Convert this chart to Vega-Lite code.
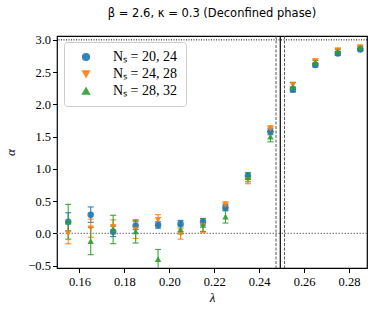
{
  "$schema": "https://vega.github.io/schema/vega-lite/v6.json",
  "autosize": "none",
  "width": 310,
  "height": 232,
  "padding": {"left": 57, "top": 36, "right": 7, "bottom": 41},
  "title": {"text": "β = 2.6, κ = 0.3 (Deconfined phase)", "font": "DejaVu Sans", "fontSize": 11.5, "fontWeight": "normal", "color": "#000", "anchor": "middle", "offset": 14},
  "datasets": {
    "pts": [
      {"lam": 0.155, "alpha": 0.18, "lo": 0.04, "hi": 0.32, "series": "Nₛ = 20, 24"},
      {"lam": 0.165, "alpha": 0.29, "lo": 0.17, "hi": 0.41, "series": "Nₛ = 20, 24"},
      {"lam": 0.175, "alpha": 0.03, "lo": -0.05, "hi": 0.11, "series": "Nₛ = 20, 24"},
      {"lam": 0.185, "alpha": 0.12, "lo": 0.06, "hi": 0.18, "series": "Nₛ = 20, 24"},
      {"lam": 0.195, "alpha": 0.13, "lo": 0.08, "hi": 0.18, "series": "Nₛ = 20, 24"},
      {"lam": 0.205, "alpha": 0.15, "lo": 0.10, "hi": 0.20, "series": "Nₛ = 20, 24"},
      {"lam": 0.215, "alpha": 0.18, "lo": 0.13, "hi": 0.23, "series": "Nₛ = 20, 24"},
      {"lam": 0.225, "alpha": 0.40, "lo": 0.35, "hi": 0.45, "series": "Nₛ = 20, 24"},
      {"lam": 0.235, "alpha": 0.89, "lo": 0.84, "hi": 0.94, "series": "Nₛ = 20, 24"},
      {"lam": 0.245, "alpha": 1.58, "lo": 1.53, "hi": 1.63, "series": "Nₛ = 20, 24"},
      {"lam": 0.255, "alpha": 2.23, "lo": 2.19, "hi": 2.27, "series": "Nₛ = 20, 24"},
      {"lam": 0.265, "alpha": 2.61, "lo": 2.58, "hi": 2.64, "series": "Nₛ = 20, 24"},
      {"lam": 0.275, "alpha": 2.79, "lo": 2.76, "hi": 2.82, "series": "Nₛ = 20, 24"},
      {"lam": 0.285, "alpha": 2.85, "lo": 2.83, "hi": 2.87, "series": "Nₛ = 20, 24"},
      {"lam": 0.155, "alpha": 0.00, "lo": -0.16, "hi": 0.16, "series": "Nₛ = 24, 28"},
      {"lam": 0.165, "alpha": 0.08, "lo": -0.06, "hi": 0.22, "series": "Nₛ = 24, 28"},
      {"lam": 0.175, "alpha": 0.10, "lo": -0.01, "hi": 0.21, "series": "Nₛ = 24, 28"},
      {"lam": 0.185, "alpha": 0.06, "lo": -0.08, "hi": 0.20, "series": "Nₛ = 24, 28"},
      {"lam": 0.195, "alpha": 0.21, "lo": 0.13, "hi": 0.29, "series": "Nₛ = 24, 28"},
      {"lam": 0.205, "alpha": -0.01, "lo": -0.09, "hi": 0.07, "series": "Nₛ = 24, 28"},
      {"lam": 0.215, "alpha": 0.12, "lo": 0.01, "hi": 0.23, "series": "Nₛ = 24, 28"},
      {"lam": 0.225, "alpha": 0.44, "lo": 0.39, "hi": 0.49, "series": "Nₛ = 24, 28"},
      {"lam": 0.235, "alpha": 0.83, "lo": 0.77, "hi": 0.89, "series": "Nₛ = 24, 28"},
      {"lam": 0.245, "alpha": 1.62, "lo": 1.57, "hi": 1.67, "series": "Nₛ = 24, 28"},
      {"lam": 0.255, "alpha": 2.30, "lo": 2.26, "hi": 2.34, "series": "Nₛ = 24, 28"},
      {"lam": 0.265, "alpha": 2.67, "lo": 2.64, "hi": 2.70, "series": "Nₛ = 24, 28"},
      {"lam": 0.275, "alpha": 2.84, "lo": 2.81, "hi": 2.87, "series": "Nₛ = 24, 28"},
      {"lam": 0.285, "alpha": 2.89, "lo": 2.87, "hi": 2.91, "series": "Nₛ = 24, 28"},
      {"lam": 0.155, "alpha": 0.18, "lo": -0.09, "hi": 0.45, "series": "Nₛ = 28, 32"},
      {"lam": 0.165, "alpha": -0.12, "lo": -0.33, "hi": 0.09, "series": "Nₛ = 28, 32"},
      {"lam": 0.175, "alpha": 0.06, "lo": -0.16, "hi": 0.28, "series": "Nₛ = 28, 32"},
      {"lam": 0.185, "alpha": 0.03, "lo": -0.15, "hi": 0.21, "series": "Nₛ = 28, 32"},
      {"lam": 0.195, "alpha": -0.40, "lo": -0.55, "hi": -0.25, "series": "Nₛ = 28, 32"},
      {"lam": 0.205, "alpha": 0.06, "lo": -0.01, "hi": 0.13, "series": "Nₛ = 28, 32"},
      {"lam": 0.215, "alpha": 0.13, "lo": 0.03, "hi": 0.23, "series": "Nₛ = 28, 32"},
      {"lam": 0.225, "alpha": 0.26, "lo": 0.16, "hi": 0.36, "series": "Nₛ = 28, 32"},
      {"lam": 0.235, "alpha": 0.87, "lo": 0.80, "hi": 0.94, "series": "Nₛ = 28, 32"},
      {"lam": 0.245, "alpha": 1.50, "lo": 1.42, "hi": 1.58, "series": "Nₛ = 28, 32"},
      {"lam": 0.255, "alpha": 2.27, "lo": 2.20, "hi": 2.34, "series": "Nₛ = 28, 32"},
      {"lam": 0.265, "alpha": 2.65, "lo": 2.62, "hi": 2.68, "series": "Nₛ = 28, 32"},
      {"lam": 0.275, "alpha": 2.82, "lo": 2.79, "hi": 2.85, "series": "Nₛ = 28, 32"},
      {"lam": 0.285, "alpha": 2.88, "lo": 2.86, "hi": 2.90, "series": "Nₛ = 28, 32"}
    ],
    "vlines": [
      {"lam": 0.2475, "kind": "dashed"},
      {"lam": 0.2513, "kind": "dashed"}
    ],
    "vsolid": [{"lam": 0.2494}],
    "hzero": [{"alpha": 0}],
    "htop": [{"alpha": 3.0}]
  },
  "layer": [
    {
      "data": {"name": "hzero"},
      "mark": {"type": "rule", "color": "#888", "strokeDash": [1.5, 1.5], "strokeWidth": 1.1},
      "encoding": {"y": {"field": "alpha", "type": "quantitative"}}
    },
    {
      "data": {"name": "htop"},
      "mark": {"type": "rule", "color": "#000", "strokeDash": [1, 1.5], "strokeWidth": 1},
      "encoding": {"y": {"field": "alpha", "type": "quantitative"}}
    },
    {
      "data": {"name": "vlines"},
      "mark": {"type": "rule", "color": "#555", "strokeDash": [3, 1.5], "strokeWidth": 1},
      "encoding": {"x": {"field": "lam", "type": "quantitative"}}
    },
    {
      "data": {"name": "vsolid"},
      "mark": {"type": "rule", "color": "#000", "strokeWidth": 1.2},
      "encoding": {"x": {"field": "lam", "type": "quantitative"}}
    },
    {
      "data": {"name": "pts"},
      "mark": {"type": "errorbar", "ticks": {"size": 6, "thickness": 1.2}, "thickness": 1.2, "clip": true, "opacity": 0.85},
      "encoding": {
        "x": {"field": "lam", "type": "quantitative", "title": "λ",
              "axis": {"values": [0.16, 0.18, 0.2, 0.22, 0.24, 0.26, 0.28], "format": ".2f", "tickCount": 10}},
        "y": {"field": "lo", "type": "quantitative", "title": "α",
              "axis": {"values": [-0.5, 0, 0.5, 1, 1.5, 2, 2.5, 3], "format": ".1f", "tickCount": 10}},
        "y2": {"field": "hi"},
        "color": {"field": "series", "type": "nominal",
                  "legend": {"title": null, "orient": "none", "legendX": 7, "legendY": 6}}
      }
    },
    {
      "data": {"name": "pts"},
      "mark": {"type": "point", "filled": true, "size": 42, "opacity": 0.9, "clip": true},
      "encoding": {
        "x": {"field": "lam", "type": "quantitative", "title": "λ",
              "scale": {"domain": [0.150, 0.288], "nice": false, "zero": false},
              "axis": {"values": [0.16, 0.18, 0.2, 0.22, 0.24, 0.26, 0.28], "format": ".2f", "tickCount": 10}},
        "y": {"field": "alpha", "type": "quantitative", "title": "α",
              "scale": {"domain": [-0.537, 3.06], "nice": false, "zero": false},
              "axis": {"values": [-0.5, 0, 0.5, 1, 1.5, 2, 2.5, 3], "format": ".1f", "tickCount": 10}},
        "color": {"field": "series", "type": "nominal",
                  "scale": {"domain": ["Nₛ = 20, 24", "Nₛ = 24, 28", "Nₛ = 28, 32"], "range": ["#1f77b4", "#ff7f0e", "#2ca02c"]},
                  "legend": {"title": null, "orient": "none", "legendX": 7, "legendY": 6}},
        "shape": {"field": "series", "type": "nominal",
                  "scale": {"domain": ["Nₛ = 20, 24", "Nₛ = 24, 28", "Nₛ = 28, 32"], "range": ["circle", "triangle-down", "triangle-up"]},
                  "legend": {"title": null, "orient": "none", "legendX": 7, "legendY": 6}}
      }
    }
  ],
  "config": {
    "view": {"stroke": "#000", "strokeWidth": 1.2},
    "axis": {
      "grid": false, "domain": false, "tickColor": "#000", "tickSize": 4.5, "tickWidth": 1,
      "labelFont": "Liberation Serif", "labelFontSize": 12.5, "labelColor": "#000", "labelOverlap": false,
      "titleFont": "Liberation Serif", "titleFontSize": 13, "titleFontWeight": "normal", "titleColor": "#000", "titleFontStyle": "italic"
    },
    "axisX": {"labelPadding": 3, "titlePadding": 3},
    "axisY": {"labelPadding": 2, "titlePadding": 10},
    "legend": {
      "labelFont": "Liberation Serif", "labelFontSize": 14, "labelColor": "#000",
      "strokeColor": "#ccc", "fillColor": "#fff", "cornerRadius": 3, "padding": 8,
      "symbolSize": 45, "symbolOpacity": 0.9, "rowPadding": 3, "labelOffset": 20, "symbolOffset": 7
    }
  }
}
